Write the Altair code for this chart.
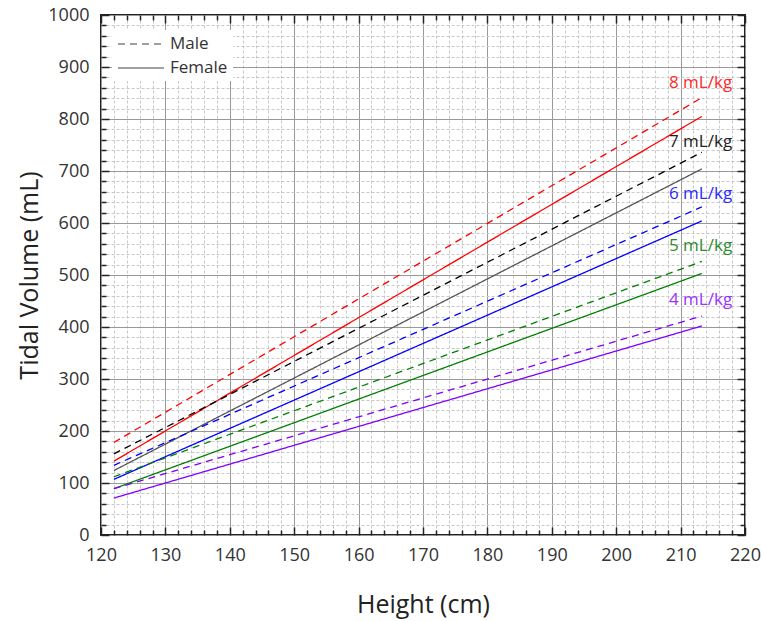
import altair as alt
import pandas as pd

# ---- data ----
rates = [8, 7, 6, 5, 4]
height_start = 122
height_end = 213.3
male_start = [178, 156, 134, 112, 89]
male_end = [841, 736, 631, 526, 421]
female_start = [142, 124, 107, 89, 71]
female_end = [805, 704, 604, 503, 402]
male_colors = ["#ff0000", "#000000", "#0000ff", "#008000", "#8000ff"]
female_colors = ["#ff0000", "#555555", "#0000ff", "#008000", "#8000ff"]
label_text = [f"{r} mL/kg" for r in rates]
label_x = [218, 218, 218, 218, 218]
label_y = [870, 755, 655, 555, 452]
label_colors = ["#ff2a2a", "#222222", "#2a2aff", "#2e8b2e", "#9933ff"]
x_ticks = list(range(120, 221, 2))
y_ticks = list(range(0, 1001, 20))

rows = []
series_domain, series_range = [], []
for i, r in enumerate(rates):
    for sex, s, e, c in (("Male", male_start[i], male_end[i], male_colors[i]),
                         ("Female", female_start[i], female_end[i], female_colors[i])):
        key = f"{r}-{sex}"
        series_domain.append(key)
        series_range.append(c)
        rows.append(dict(height=height_start, tv=s, sex=sex, series=key))
        rows.append(dict(height=height_end, tv=e, sex=sex, series=key))
df = pd.DataFrame(rows)
lab = pd.DataFrame(dict(x=label_x, y=label_y, text=label_text))

W, H = 644, 520
FONT = "Open Sans"
XMAJ = "datum.value % 10 === 0"
YMAJ = "datum.value % 100 === 0"


def cond(test, a, b):
    return {"condition": {"test": test, "value": a}, "value": b}


xscale = alt.Scale(domain=[120, 220], nice=False, zero=False)
yscale = alt.Scale(domain=[0, 1000], nice=False)

common = dict(labelFont=FONT, labelFontSize=18, labelColor="#333333",
              titleFont=FONT, titleFontWeight="normal", titleColor="#222222",
              labelOverlap=False, labelFlush=False, domain=False, format="d")

x_main = alt.Axis(orient="bottom", values=x_ticks, ticks=False,
                  labelExpr=f"{XMAJ} ? datum.label : ''",
                  grid=True, gridColor=cond(XMAJ, "#999999", "#c8c8c8"),
                  gridDash=cond(XMAJ, [], [3, 2]), gridWidth=1,
                  labelPadding=11, title="Height (cm)", titleFontSize=25,
                  titlePadding=28, **common)
y_main = alt.Axis(orient="left", values=y_ticks, ticks=False,
                  labelExpr=f"{YMAJ} ? datum.label : ''",
                  grid=True, gridColor=cond(YMAJ, "#999999", "#c8c8c8"),
                  gridDash=cond(YMAJ, [], [3, 2]), gridWidth=1,
                  labelPadding=12, title="Tidal Volume (mL)", titleFontSize=25,
                  titlePadding=5, **common)

lines = alt.Chart(df).mark_line(strokeWidth=1.3).encode(
    x=alt.X("height:Q", scale=xscale, axis=x_main),
    y=alt.Y("tv:Q", scale=yscale, axis=y_main),
    color=alt.Color("series:N", scale=alt.Scale(domain=series_domain, range=series_range), legend=None),
    strokeDash=alt.StrokeDash(
        "sex:N",
        scale=alt.Scale(domain=["Male", "Female"], range=[[7, 5], [1, 0]]),
        legend=alt.Legend(title=None, orient="none", legendX=11, legendY=15,
                          symbolType="M-1,0H4.75", symbolSize=256,
                          symbolStrokeColor="#444444", symbolStrokeWidth=1.2,
                          labelOffset=35, labelFont=FONT, labelFontSize=17,
                          labelColor="#333333", rowPadding=7, padding=5,
                          fillColor="white"),
    ),
    detail="series:N",
)


def tick_axis(orient, values, test, offset):
    return alt.Axis(orient=orient, values=values, offset=offset, labels=False,
                    grid=False, domain=False, title=None, ticks=True,
                    tickSize=cond(test, 8, 5), tickColor="#222222", tickWidth=1.5)


ticks_a = alt.Chart(df).mark_point(opacity=0).encode(
    x=alt.X("height:Q", scale=xscale, axis=tick_axis("top", x_ticks, XMAJ, -H)),
    y=alt.Y("tv:Q", scale=yscale, axis=tick_axis("right", y_ticks, YMAJ, -W)),
)
ticks_b = alt.Chart(df).mark_point(opacity=0).encode(
    x=alt.X("height:Q", scale=xscale, axis=tick_axis("bottom", x_ticks, XMAJ, -H)),
    y=alt.Y("tv:Q", scale=yscale, axis=tick_axis("left", y_ticks, YMAJ, -W)),
)

labels = alt.Chart(lab).mark_text(align="right", baseline="middle", font=FONT, fontSize=17).encode(
    x=alt.X("x:Q", scale=xscale, axis=None),
    y=alt.Y("y:Q", scale=yscale, axis=None),
    text="text:N",
    color=alt.Color("text:N", scale=alt.Scale(domain=label_text, range=label_colors), legend=None),
)

chart = alt.layer(lines, ticks_a, ticks_b, labels).properties(
    width=W, height=H,
    padding={"left": 101, "top": 15, "right": 17, "bottom": 86},
    autosize=alt.AutoSizeParams(type="none"),
).resolve_axis(x="independent", y="independent").resolve_scale(
    color="independent"
).configure_view(stroke="#222222", strokeWidth=2)

chart.save("out.html", embed_options={"renderer": "svg", "actions": False})
